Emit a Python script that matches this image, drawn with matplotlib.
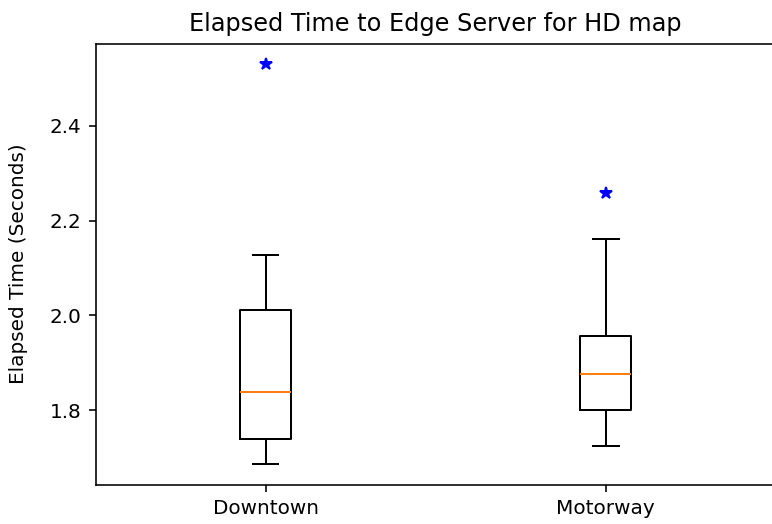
import matplotlib
matplotlib.use("Agg")
import matplotlib.pyplot as plt

categories = ["Downtown", "Motorway"]
whisker_low = [1.686, 1.724]
q1 = [1.740, 1.800]
median = [1.838, 1.876]
q3 = [2.011, 1.956]
whisker_high = [2.127, 2.161]
fliers = [[2.531], [2.258]]

stats = []
for i, name in enumerate(categories):
    stats.append(dict(label=name, whislo=whisker_low[i], q1=q1[i], med=median[i],
                      q3=q3[i], whishi=whisker_high[i], fliers=fliers[i]))

dpi = 144
fig = plt.figure(figsize=(772 / dpi, 524 / dpi), dpi=dpi)
ax = fig.add_axes([95.5 / 772, 1 - 484.5 / 524, (776 - 95.5) / 772, (484.5 - 43.5) / 524])
ax.bxp(stats, flierprops=dict(marker='*', markerfacecolor='blue', markeredgecolor='blue'))
ax.set_title("Elapsed Time to Edge Server for HD map")
ax.set_ylabel("Elapsed Time (Seconds)", labelpad=11)
fig.savefig("out.png", dpi=dpi)
